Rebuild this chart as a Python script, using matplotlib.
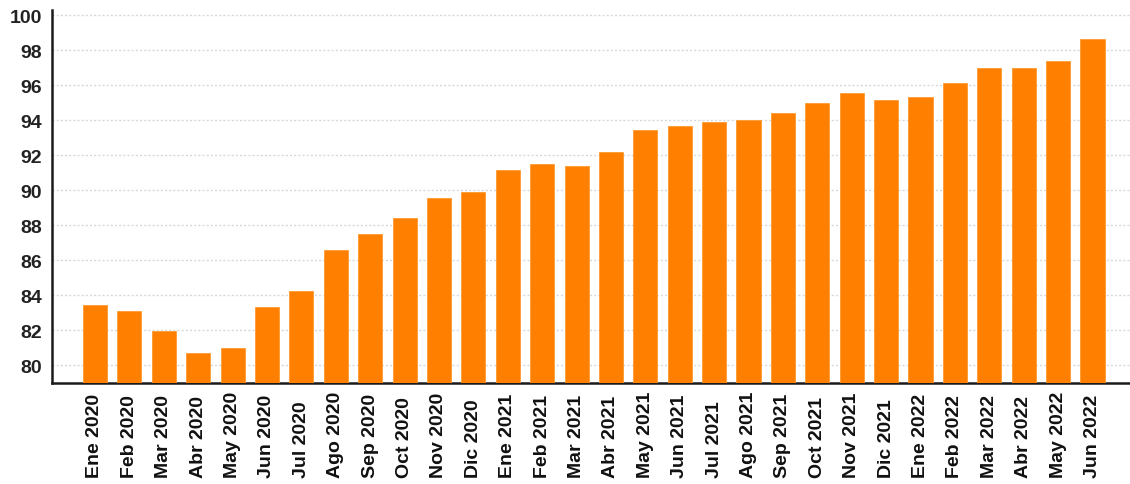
import matplotlib
matplotlib.use("Agg")
import matplotlib.pyplot as plt
import numpy as np

months = ["Ene 2020", "Feb 2020", "Mar 2020", "Abr 2020", "May 2020", "Jun 2020",
          "Jul 2020", "Ago 2020", "Sep 2020", "Oct 2020", "Nov 2020", "Dic 2020",
          "Ene 2021", "Feb 2021", "Mar 2021", "Abr 2021", "May 2021", "Jun 2021",
          "Jul 2021", "Ago 2021", "Sep 2021", "Oct 2021", "Nov 2021", "Dic 2021",
          "Ene 2022", "Feb 2022", "Mar 2022", "Abr 2022", "May 2022", "Jun 2022"]
values = [83.44, 83.13, 81.99, 80.71, 81.00, 83.32,
          84.24, 86.57, 87.49, 88.41, 89.55, 89.92,
          91.18, 91.52, 91.40, 92.20, 93.42, 93.66,
          93.93, 94.00, 94.42, 94.98, 95.55, 95.17,
          95.34, 96.13, 97.00, 97.00, 97.37, 98.62]
yticks = [80, 82, 84, 86, 88, 90, 92, 94, 96, 98, 100]

plt.rcParams['font.family'] = ['Liberation Sans', 'DejaVu Sans']
plt.rcParams['font.weight'] = 'bold'

fig = plt.figure(figsize=(11.3, 4.85), dpi=100)
ax = fig.add_axes([52/1130, 101/485, 1 - 52/1130, (384-11)/485])

x = np.arange(len(months))
ax.bar(x, values, width=0.7, color='#FF8000', edgecolor='#FF9a33', linewidth=0.6, zorder=3)

ax.set_ylim(79, 100.3)
ax.set_xlim(-1.25, 30.09)
ax.set_yticks(yticks)
ax.set_yticklabels([str(v) for v in yticks], fontsize=14, fontweight='bold', color='#222222')
ax.set_xticks(x)
ax.set_xticklabels(months, rotation=90, fontsize=14, fontweight='bold', color='#111111', va='bottom')
ax.tick_params(axis='x', length=0, pad=68)
ax.tick_params(axis='y', length=0, pad=7)

ax.grid(axis='y', color='#d8d8d8', linestyle=(0, (1.5, 1.5)), linewidth=1.0, zorder=0)
for s in ['top', 'right']:
    ax.spines[s].set_visible(False)
for s in ['left', 'bottom']:
    ax.spines[s].set_linewidth(1.8)
    ax.spines[s].set_color('#1a1a1a')

fig.savefig('out.png', dpi=100)
